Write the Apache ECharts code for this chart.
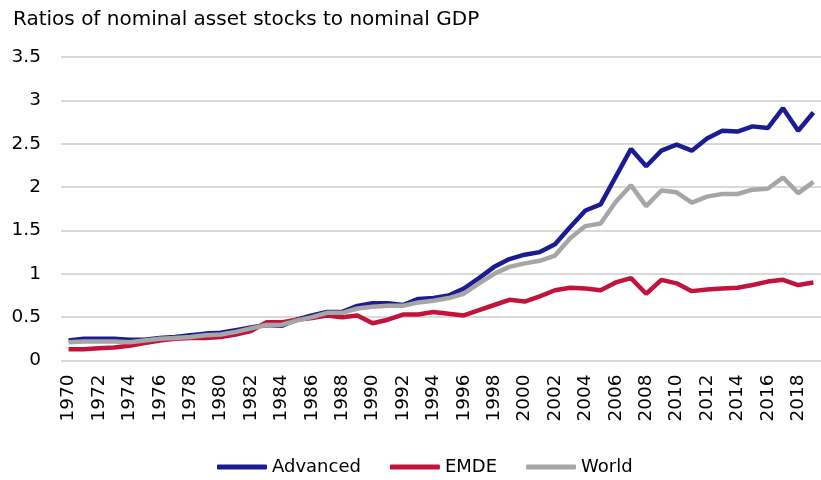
<!DOCTYPE html>
<html>
<head>
<meta charset="utf-8">
<script src="https://cdn.jsdelivr.net/npm/echarts@6/dist/echarts.min.js"></script>
<style>
  html, body { margin: 0; padding: 0; background: #fff; }
  #chart { width: 821px; height: 480px; }
</style>
</head>
<body>
<div id="chart"></div>
<script>
// years 1970..2019
var years = [];
for (var y = 1970; y <= 2019; y++) years.push(String(y));

var advanced = [
  0.23, 0.25, 0.25, 0.25, 0.24, 0.24, 0.26, 0.27, 0.29, 0.31,
  0.32, 0.35, 0.38, 0.41, 0.40, 0.47, 0.52, 0.56, 0.56, 0.63,
  0.66, 0.66, 0.64, 0.71, 0.72, 0.75, 0.83, 0.95, 1.08, 1.17,
  1.22, 1.25, 1.34, 1.54, 1.73, 1.80, 2.12, 2.44, 2.24, 2.42,
  2.49, 2.42, 2.56, 2.65, 2.64, 2.70, 2.68, 2.91, 2.65, 2.86
];
var emde = [
  0.13, 0.13, 0.14, 0.15, 0.17, 0.20, 0.23, 0.25, 0.26, 0.26,
  0.27, 0.30, 0.34, 0.44, 0.44, 0.47, 0.49, 0.52, 0.50, 0.52,
  0.43, 0.47, 0.53, 0.53, 0.56, 0.54, 0.52, 0.58, 0.64, 0.70,
  0.68, 0.74, 0.81, 0.84, 0.83, 0.81, 0.90, 0.95, 0.77, 0.93,
  0.89, 0.80, 0.82, 0.83, 0.84, 0.87, 0.91, 0.93, 0.87, 0.90
];
var world = [
  0.21, 0.22, 0.22, 0.22, 0.21, 0.23, 0.25, 0.26, 0.27, 0.29,
  0.30, 0.33, 0.37, 0.41, 0.41, 0.46, 0.50, 0.55, 0.55, 0.60,
  0.62, 0.63, 0.63, 0.67, 0.69, 0.72, 0.77, 0.89, 1.00, 1.08,
  1.12, 1.15, 1.21, 1.41, 1.55, 1.58, 1.83, 2.02, 1.78, 1.96,
  1.94, 1.82, 1.89, 1.92, 1.92, 1.97, 1.98, 2.11, 1.93, 2.06
];

var names = ['Advanced', 'EMDE', 'World'];
var colors = ['#1c1c92', '#c0143c', '#a6a6a6'];
var font = 'DejaVu Sans';

function lineSeries (i, data) {
  return {
    name: names[i],
    type: 'line',
    data: data,
    symbol: 'none',
    lineStyle: { color: colors[i], width: 4.5 },
    itemStyle: { color: colors[i] }
  };
}

var chart = echarts.init(document.getElementById('chart'));
chart.setOption({
  animation: false,
  title: {
    text: 'Ratios of nominal asset stocks to nominal GDP',
    left: 8,
    top: 5,
    textStyle: { fontFamily: font, fontSize: 20, fontWeight: 'normal', color: '#000' }
  },
  legend: {
    left: 212,
    top: 453,
    icon: 'roundRect',
    itemWidth: 50,
    itemHeight: 5,
    itemGap: 29,
    textStyle: { fontFamily: font, fontSize: 18, color: '#000' },
    data: names.map(function (n) { return { name: n, icon: 'roundRect' }; })
  },
  grid: { left: 61, right: -7, top: 57, bottom: 119.5, containLabel: false },
  xAxis: {
    type: 'category',
    data: years,
    boundaryGap: true,
    axisLine: { show: false },
    axisTick: { show: false },
    axisLabel: {
      interval: 1,
      rotate: 90,
      margin: 14,
      fontFamily: font,
      fontSize: 18.5,
      color: '#000'
    }
  },
  yAxis: {
    type: 'value',
    min: 0,
    max: 3.5,
    interval: 0.5,
    axisLine: { show: false },
    axisTick: { show: false },
    axisLabel: { margin: 20, fontFamily: font, fontSize: 18.5, color: '#000' },
    splitLine: { lineStyle: { color: '#d9d9d9', width: 2 } }
  },
  series: [
    lineSeries(0, advanced),
    lineSeries(1, emde),
    lineSeries(2, world)
  ]
});
</script>
</body>
</html>
